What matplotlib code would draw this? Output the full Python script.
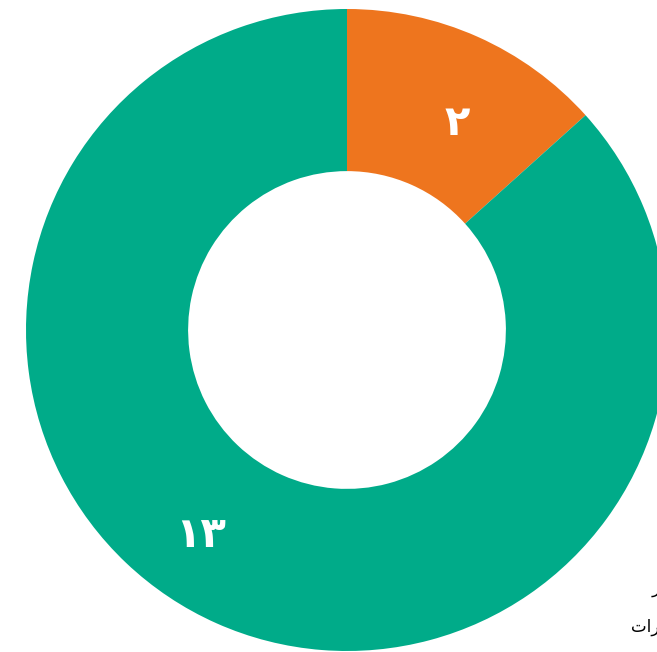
import matplotlib
matplotlib.use("Agg")
import matplotlib.pyplot as plt

values = [2, 13]
labels_fa = ["۲", "۱۳"]
colors = ["#EE751E", "#00AB89"]
# legend entries (cut off at the right edge in the reference), visual order
legend_text = ["ﺭ", "ﺕﺍﺭ"]

W, H = 657, 652
fig = plt.figure(figsize=(W / 100, H / 100), dpi=100)
ax = fig.add_axes([0, 0, 1, 1])

cx, cy = 347, 330
R = 321
wedges, _ = ax.pie(values, colors=colors, startangle=90, counterclock=False,
                   radius=R, center=(0, 0),
                   wedgeprops=dict(width=R * 0.505, linewidth=0))

# value labels inside the ring
label_pos = [(110, 207), (-146, -205)]
for txt, (x, y) in zip(labels_fa, label_pos):
    ax.text(x, y, txt, ha="center", va="center", color="white",
            fontsize=30, fontweight="bold", family="DejaVu Sans")

ax.set_xlim(-cx, W - cx)
ax.set_ylim(-(H - cy), cy)
ax.set_aspect("equal")
ax.axis("off")

# legend text, mostly outside the canvas
fig.text(652 / W, 1 - 588 / H, legend_text[0], ha="left", va="center",
         fontsize=12, family="DejaVu Sans")
fig.text(631 / W, 1 - 627 / H, legend_text[1], ha="left", va="center",
         fontsize=12, family="DejaVu Sans")

fig.savefig("out.png", dpi=100)
